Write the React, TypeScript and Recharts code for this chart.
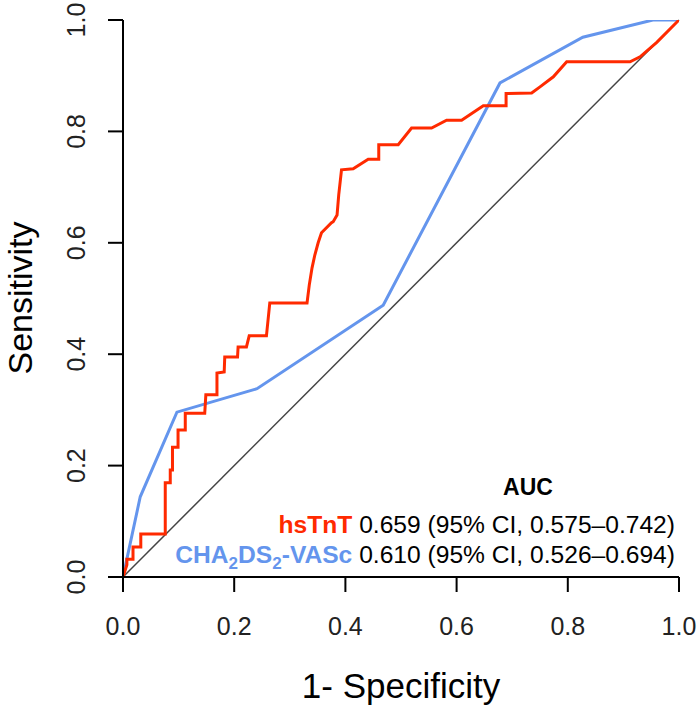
import { LineChart, Line, XAxis, YAxis, ReferenceLine } from "recharts";

// ROC curve of hsTnT (false positive rate / sensitivity)
const hsTnTFpr = [
  0, 0.007, 0.007, 0.018, 0.018, 0.032, 0.032, 0.058, 0.076, 0.076, 0.085, 0.085,
  0.089, 0.089, 0.099, 0.099, 0.112, 0.112, 0.147, 0.149, 0.169, 0.169, 0.182,
  0.183, 0.206, 0.207, 0.222, 0.227, 0.258, 0.264, 0.331, 0.335, 0.34, 0.345,
  0.351, 0.357, 0.375, 0.378, 0.385, 0.388, 0.393, 0.414, 0.441, 0.46, 0.46,
  0.495, 0.519, 0.555, 0.582, 0.609, 0.648, 0.689, 0.689, 0.735, 0.75, 0.774,
  0.798, 0.831, 0.912, 0.93, 0.96, 1,
];
const hsTnTTpr = [
  0, 0.022, 0.032, 0.032, 0.054, 0.054, 0.077, 0.077, 0.077, 0.169, 0.169, 0.192,
  0.192, 0.233, 0.233, 0.264, 0.264, 0.294, 0.294, 0.327, 0.327, 0.366, 0.368,
  0.395, 0.395, 0.413, 0.413, 0.433, 0.433, 0.492, 0.492, 0.524, 0.555, 0.578,
  0.6, 0.618, 0.636, 0.638, 0.65, 0.686, 0.731, 0.733, 0.75, 0.75, 0.776,
  0.776, 0.806, 0.806, 0.82, 0.82, 0.846, 0.846, 0.868, 0.869, 0.88, 0.898,
  0.925, 0.925, 0.925, 0.934, 0.96, 1,
];

// ROC curve of CHA2DS2-VASc
const chaFpr = [0, 0.031, 0.097, 0.241, 0.468, 0.678, 0.827, 0.953, 1];
const chaTpr = [0, 0.144, 0.296, 0.338, 0.488, 0.887, 0.969, 1, 1];

const axisTicks = [0, 0.2, 0.4, 0.6, 0.8, 1];

const hsTnTData = hsTnTFpr.map((x, i) => ({ x, y: hsTnTTpr[i] }));
const chaData = chaFpr.map((x, i) => ({ x, y: chaTpr[i] }));

const RED = "#ff2a00";
const BLUE = "#6495ed";
const FONT = "'Liberation Sans', Arial, sans-serif";

const YTick = ({ y, payload }: any) => (
  <text
    x={85}
    y={y}
    transform={`rotate(-90, 85, ${y})`}
    textAnchor="middle"
    fontSize={25}
    fill="#222"
    fontFamily={FONT}
  >
    {payload.value.toFixed(1)}
  </text>
);

export default function App() {
  return (
    <div style={{ position: "absolute", left: 0, top: 0, background: "#fff" }}>
      <LineChart
        width={700}
        height={709}
        margin={{ top: 20, right: 21, bottom: 0, left: 0 }}
      >
        <XAxis
          type="number"
          dataKey="x"
          domain={[0, 1]}
          ticks={axisTicks}
          tickFormatter={(v: number) => v.toFixed(1)}
          height={132}
          tickSize={15}
          tickMargin={25}
          axisLine={{ stroke: "#000", strokeWidth: 2 }}
          tickLine={{ stroke: "#000", strokeWidth: 2 }}
          tick={{ fontSize: 25, fill: "#222", fontFamily: FONT }}
          allowDataOverflow
        />
        <YAxis
          type="number"
          dataKey="y"
          domain={[0, 1]}
          ticks={axisTicks}
          width={123}
          tickSize={15}
          axisLine={{ stroke: "#000", strokeWidth: 2 }}
          tickLine={{ stroke: "#000", strokeWidth: 2 }}
          tick={<YTick />}
          allowDataOverflow
        />
        <ReferenceLine
          segment={[
            { x: 0, y: 0 },
            { x: 1, y: 1 },
          ]}
          stroke="#444"
          strokeWidth={1.5}
        />
        <Line
          data={chaData}
          dataKey="y"
          type="linear"
          stroke={BLUE}
          strokeWidth={3}
          dot={false}
          isAnimationActive={false}
        />
        <Line
          data={hsTnTData}
          dataKey="y"
          type="linear"
          stroke={RED}
          strokeWidth={3}
          dot={false}
          isAnimationActive={false}
        />
        <text
          x={32}
          y={298}
          transform="rotate(-90, 32, 298)"
          textAnchor="middle"
          fontSize={34}
          fill="#000"
          fontFamily={FONT}
        >
          Sensitivity
        </text>
        <text x={401} y={698} textAnchor="middle" fontSize={35} fill="#000" fontFamily={FONT}>
          1- Specificity
        </text>
        <text
          x={528}
          y={495}
          textAnchor="middle"
          fontSize={23}
          fontWeight="bold"
          fill="#000"
          fontFamily={FONT}
        >
          AUC
        </text>
        <text x={675} y={533} textAnchor="end" fontSize={24.6} fontFamily={FONT} style={{ whiteSpace: "pre" }}>
          <tspan fill={RED} fontWeight="bold">hsTnT</tspan>
          <tspan fill="#000">{" 0.659 (95% CI, 0.575–0.742)"}</tspan>
        </text>
        <text x={675} y={563} textAnchor="end" fontSize={24.6} fontFamily={FONT} style={{ whiteSpace: "pre" }}>
          <tspan fill={BLUE} fontWeight="bold">CHA</tspan>
          <tspan fill={BLUE} fontWeight="bold" fontSize={17} dy={6}>2</tspan>
          <tspan fill={BLUE} fontWeight="bold" dy={-6}>DS</tspan>
          <tspan fill={BLUE} fontWeight="bold" fontSize={17} dy={6}>2</tspan>
          <tspan fill={BLUE} fontWeight="bold" dy={-6}>-VASc</tspan>
          <tspan fill="#000">{" 0.610 (95% CI, 0.526–0.694)"}</tspan>
        </text>
      </LineChart>
    </div>
  );
}
